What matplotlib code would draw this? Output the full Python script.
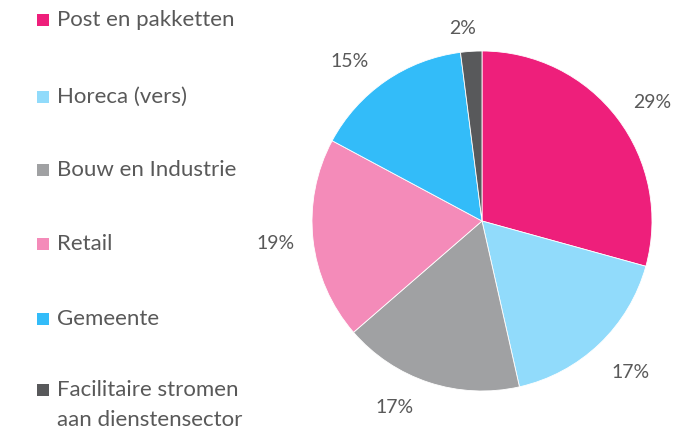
import matplotlib
matplotlib.use("Agg")
import matplotlib.pyplot as plt
from matplotlib.patches import Rectangle
import numpy as np

categories = ["Post en pakketten", "Horeca (vers)", "Bouw en Industrie", "Retail",
              "Gemeente", "Facilitaire stromen\naan dienstensector"]
values = [29, 17, 17, 19, 15, 2]
colors = ["#EE1F7B", "#91DBFB", "#A0A1A3", "#F48BB9", "#33BCF9", "#58595B"]
text_color = "#595959"

# label placement tweaks (style only): distance factor and angle offset (deg)
label_dist = [1.22, 1.25, 1.21, 1.22, 1.22, 1.14]
label_dang = [-2.4, 0.8, -7.0, 0.0, 5.3, 2.0]

plt.rcParams['font.family'] = ['Lato', 'DejaVu Sans']

W, H = 674, 430
fig = plt.figure(figsize=(W / 100, H / 100), dpi=100)

cx, cy, r = 482, 221, 170
ax = fig.add_axes([(cx - r) / W, (H - cy - r) / H, 2 * r / W, 2 * r / H])
ax.axis("off")

total = sum(values)
wedges, _, autotexts = ax.pie(
    values, colors=colors, startangle=90, counterclock=False, radius=1,
    autopct=lambda p: f"{round(p * total / 100):d}%", pctdistance=1.22,
    wedgeprops=dict(edgecolor="white", linewidth=0.6),
    textprops=dict(color=text_color, fontsize=14),
)
for w, t, d, da in zip(wedges, autotexts, label_dist, label_dang):
    ang = np.deg2rad((w.theta1 + w.theta2) / 2 + da)
    t.set_position((d * np.cos(ang), d * np.sin(ang)))
ax.set_xlim(-1, 1)
ax.set_ylim(-1, 1)

ys = [20, 97, 170, 244, 319, 390]
for cat, col, y in zip(categories, colors, ys):
    fig.patches.append(Rectangle((37 / W, (H - y - 6) / H), 12 / W, 12 / H,
                                 transform=fig.transFigure, facecolor=col,
                                 edgecolor="none"))
    ty = y + 15 if "\n" in cat else y
    fig.text(57 / W, (H - ty) / H, cat, color=text_color, fontsize=16,
             va="center", ha="left", linespacing=1.6)

fig.savefig("out.png", dpi=100)
